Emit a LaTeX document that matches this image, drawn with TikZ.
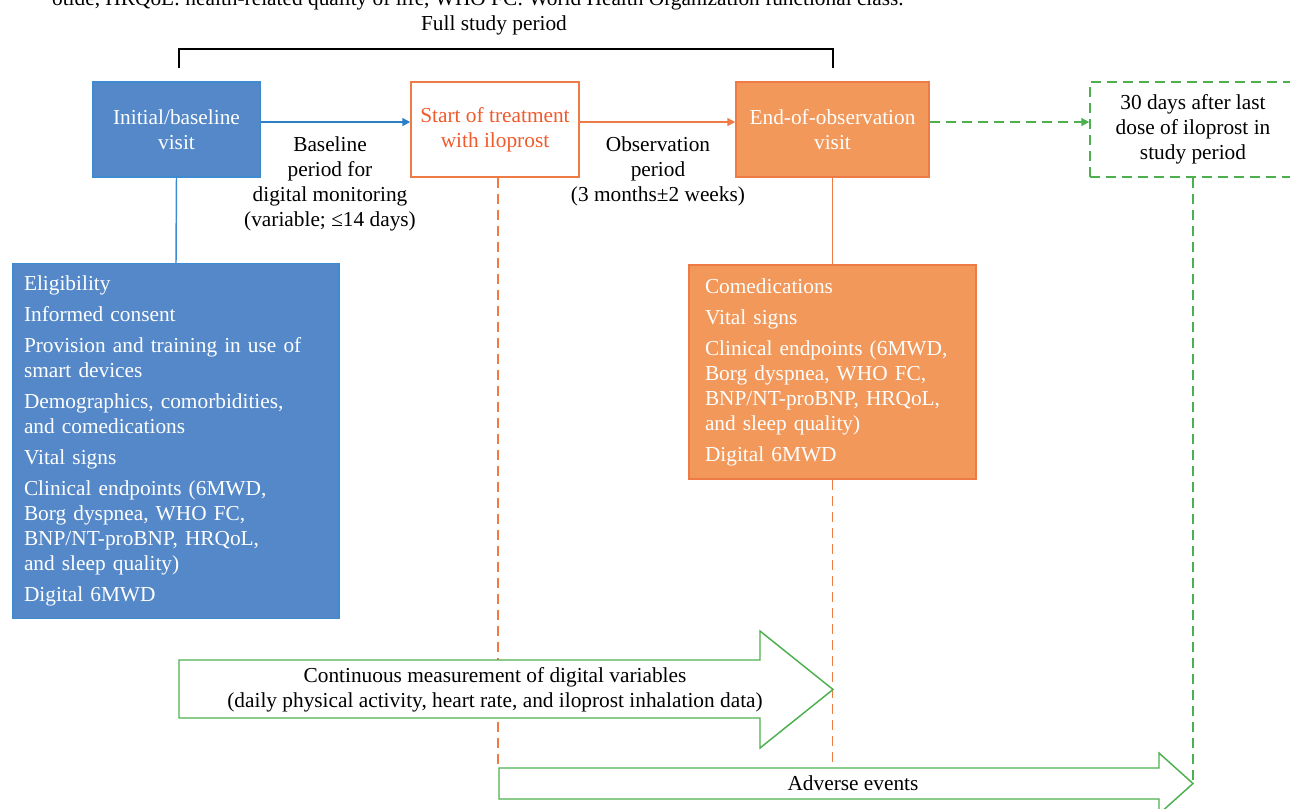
\documentclass[tikz,border=0pt]{standalone}
\usepackage{fontspec}
\setmainfont{Liberation Serif}
\usetikzlibrary{arrows.meta,calc}
\definecolor{bfill}{HTML}{5488C8}
\definecolor{bline}{HTML}{3F8BD0}
\definecolor{barrow}{HTML}{2A7FC6}
\definecolor{ofill}{HTML}{F1985A}
\definecolor{oline}{HTML}{EE7A45}
\definecolor{otext}{HTML}{F15A2B}
\definecolor{gline}{HTML}{4DB04F}
\begin{document}
\begin{tikzpicture}[x=0.75pt,y=-0.75pt,
  every node/.style={font=\fontsize{16}{18.75}\selectfont, inner sep=0pt},
  visitbox/.style={draw, line width=1.1pt, minimum width=#1, minimum height=71.25pt, align=center},
  listbox/.style={draw, line width=1.1pt, align=left, text=white},
  lbl/.style={align=center, text=black},
  solidline/.style={line width=1.1pt},
  dashline/.style={line width=1.1pt, dash pattern=on 7.5pt off 4.5pt},
  tip/.style={-{Triangle[length=6pt,width=6pt]}},
  bigarrow/.style={draw=gline, fill=white, line width=1.1pt}
]
\useasboundingbox (0,0) rectangle (1290,808);
\clip (0,0) rectangle (1290,808);

% clipped caption line at top
\node[anchor=base east] (cap) at (904,5) {otide, HRQoL: health-related quality of life, WHO FC: World Health Organization functional class.};

% full study period bracket
\node[lbl] (full) at (494,25) {Full study period};
\coordinate (brL) at (179,68);
\coordinate (brR) at (833,68);
\draw[solidline, black] (brL) -- (179,49) -- (833,49) -- (brR);

% top row
\node[visitbox=125.25pt, fill=bfill, draw=bline, text=white] (A) at (176.5,129.5) {Initial/baseline\\visit};
\node[visitbox=126pt, fill=white, draw=oline, text=otext] (B) at (495,129.5) {Start of treatment\\with iloprost};
\node[visitbox=144.75pt, fill=ofill, draw=oline, text=white] (C) at (832.5,129.5) {End-of-observation\\visit};
\node[visitbox=154.5pt, draw=gline, dashline, text=black] (D) at (1193,129.5) {30 days after last\\dose of iloprost in\\study period};

\node[lbl] (basel) at (330,184) {Baseline\\period for\\digital monitoring\\(variable; ≤14 days)};
\node[lbl] (obsl) at (658,171.5) {Observation\\period\\(3 months±2 weeks)};

\draw[solidline, barrow, tip] ([yshift=5.6pt]A.east) -- ([yshift=5.6pt]B.west);
\draw[solidline, oline, tip] ([yshift=5.6pt]B.east) -- ([yshift=5.6pt]C.west);
\draw[dashline, gline, tip] ([yshift=5.6pt]C.east) -- ([yshift=5.6pt]D.west);

% detail boxes
\node[listbox, fill=bfill, draw=bline, text width=228pt, inner xsep=8.25pt, minimum height=266.25pt] (E) at (176,441) {%
Eligibility\\[4.5pt]
Informed consent\\[4.5pt]
Provision and training in use of\\
smart devices\\[4.5pt]
Demographics, comorbidities,\\
and comedications\\[4.5pt]
Vital signs\\[4.5pt]
Clinical endpoints (6MWD,\\
Borg dyspnea, WHO FC,\\
BNP/NT-proBNP, HRQoL,\\
and sleep quality)\\[4.5pt]
Digital 6MWD};

\node[listbox, fill=ofill, draw=oline, text width=191.25pt, inner xsep=12pt, minimum height=160.5pt] (F) at (832.5,372) {%
Comedications\\[4.5pt]
Vital signs\\[4.5pt]
Clinical endpoints (6MWD,\\
Borg dyspnea, WHO FC,\\
BNP/NT-proBNP, HRQoL,\\
and sleep quality)\\[4.5pt]
Digital 6MWD};

\draw[solidline, bline] (A.south) -- (E.north);
\draw[solidline, oline] (C.south) -- (F.north);

% vertical dashed time markers
\coordinate (m1) at (498,768);
\coordinate (m2) at (832.5,768);
\coordinate (m3) at (1193,780);
\draw[dashline, oline] ([xshift=2.25pt]B.south) -- (m1);
\draw[dashline, oline] (F.south) -- (m2);
\draw[dashline, gline] (D.south) -- (m3);

% continuous measurement arrow
\draw[bigarrow] (179,660) -- (760,660) -- (760,631) -- (833,689.5) -- (760,748) -- (760,718) -- (179,718) -- cycle;
\node[lbl] (cont) at (495,690) {Continuous measurement of digital variables\\(daily physical activity, heart rate, and iloprost inhalation data)};

% adverse events arrow
\draw[bigarrow] (499,768) -- (1159,768) -- (1159,753) -- (1193,783.5) -- (1159,814) -- (1159,799) -- (499,799) -- cycle;
\node[lbl] (adv) at (853,783.5) {Adverse events};
\end{tikzpicture}
\end{document}
